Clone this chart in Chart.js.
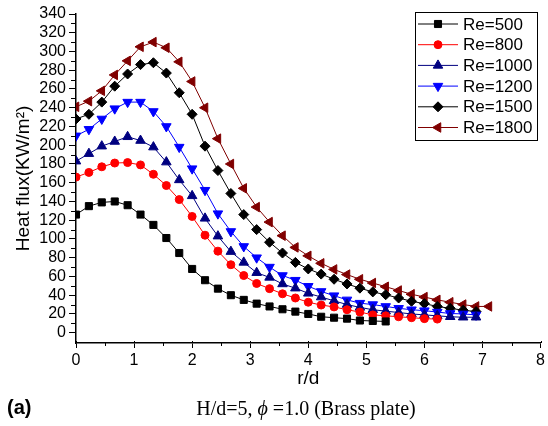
<!DOCTYPE html>
<html>
<head>
<meta charset="utf-8">
<script src="https://cdn.jsdelivr.net/npm/chart.js@4.4.0/dist/chart.umd.min.js"></script>
<style>
  html, body { margin: 0; padding: 0; background: #fff; }
  #wrap { width: 548px; height: 426px; }
</style>
</head>
<body>
<div id="wrap"><canvas id="chart" width="548" height="426"></canvas></div>
<script>
// r/d positions (step 2/9)
const rd = [0, 0.222, 0.444, 0.667, 0.889, 1.111, 1.333, 1.556, 1.778, 2.0, 2.222, 2.444,
  2.667, 2.889, 3.111, 3.333, 3.556, 3.778, 4.0, 4.222, 4.444, 4.667, 4.889, 5.111,
  5.333, 5.556, 5.778, 6.0, 6.222, 6.444, 6.667, 6.889, 7.111];

const labels = ["Re=500", "Re=800", "Re=1000", "Re=1200", "Re=1500", "Re=1800"];

const re500 = [126, 135, 139, 140, 136, 126, 115, 101, 85, 68, 56, 47, 40, 35, 31, 28,
  25, 22.5, 20, 17, 16, 15, 13, 12.5, 12];
const re800 = [166, 171, 177, 181, 181.5, 179, 169, 157, 142, 124, 104, 87, 72.5, 61, 52.5,
  47, 41.5, 37, 32.5, 29.5, 27.5, 24.5, 22, 19, 18, 17, 16, 15, 14.5];
const re1000 = [183, 191, 199, 204, 209, 205, 198, 182, 163, 146, 122, 103, 86.5, 75, 64,
  59, 52, 47.5, 42, 38, 34, 30, 27, 24.5, 23, 21.5, 20, 19, 18, 17, 16.5, 16.5];
const re1200 = [210, 217, 228, 239, 246, 246, 236, 220, 198, 175, 152, 127, 108, 92, 80,
  70, 61, 56, 49.5, 44, 39.5, 35, 31.5, 30, 28, 26, 24.5, 23.5, 22, 20.5, 20, 19];
const re1500 = [228, 233, 246, 263, 276, 286, 288, 277, 256, 233, 199, 173, 148.5, 126, 110,
  96.5, 85, 75, 68, 62.5, 57, 52, 47.5, 43.5, 40.5, 37, 33.5, 31, 28, 26, 24, 22.5];
const re1800 = [241, 247, 258, 275, 290, 305, 310, 304, 289, 268, 240, 207, 180, 154, 134,
  118, 103.5, 91, 82, 74, 67.5, 62, 57, 53, 49, 45, 41, 38, 35, 32.5, 30, 28, 28];

const xTicks = [0, 1, 2, 3, 4, 5, 6, 7, 8];
const yTicks = [0, 20, 40, 60, 80, 100, 120, 140, 160, 180, 200, 220, 240, 260, 280, 300, 320, 340];
const xMinor = [0.5, 1.5, 2.5, 3.5, 4.5, 5.5, 6.5, 7.5];
const yMinor = [10, 30, 50, 70, 90, 110, 130, 150, 170, 190, 210, 230, 250, 270, 290, 310, 330];

const colors = ["#000000", "#ff0000", "#000080", "#0000ff", "#000000", "#800000"];
const styles = ["rect", "circle", "triangle", "triangle", "rectRot", "triangle"];
const rotations = [0, 0, 0, 180, 0, 270];
const radii = [5, 4, 5.5, 5.5, 5, 5.5];

const allSeries = [re500, re800, re1000, re1200, re1500, re1800];

const FONT = "'Liberation Sans', Arial, sans-serif";
const SERIF = "'Liberation Serif', 'Times New Roman', serif";

const datasets = allSeries.map((vals, i) => ({
  label: labels[i],
  data: vals.map((v, j) => ({ x: rd[j], y: v })),
  borderColor: colors[i],
  backgroundColor: colors[i],
  pointBackgroundColor: colors[i],
  pointBorderColor: colors[i],
  pointBorderWidth: 1,
  borderWidth: 1,
  pointStyle: styles[i],
  pointRotation: rotations[i],
  pointRadius: radii[i],
  tension: 0,
  fill: false
}));

const extras = {
  id: "extras",
  afterDraw(chart) {
    const ctx = chart.ctx;
    const xs = chart.scales.x, ys = chart.scales.y;
    ctx.save();
    // minor ticks
    ctx.strokeStyle = "#000";
    ctx.lineWidth = 1;
    ctx.beginPath();
    xMinor.forEach(v => {
      const px = Math.round(xs.getPixelForValue(v)) + 0.5;
      ctx.moveTo(px, ys.bottom - 1);
      ctx.lineTo(px, ys.bottom + 3);
    });
    xTicks.forEach(v => {
      const px = Math.round(xs.getPixelForValue(v)) + 0.5;
      ctx.moveTo(px, ys.bottom - 2);
      ctx.lineTo(px, ys.bottom);
    });
    yMinor.forEach(v => {
      const py = Math.round(ys.getPixelForValue(v)) + 0.5;
      ctx.moveTo(xs.left, py);
      ctx.lineTo(xs.left - 5, py);
    });
    ctx.stroke();

    // legend box
    ctx.strokeStyle = "#000";
    ctx.lineWidth = 1;
    ctx.strokeRect(415.5, 12.5, 122, 128);
    chart.data.datasets.forEach((ds, i) => {
      const y = 24 + i * 20.7;
      ctx.strokeStyle = ds.borderColor;
      ctx.lineWidth = 1;
      ctx.beginPath();
      ctx.moveTo(418, y);
      ctx.lineTo(458, y);
      ctx.stroke();
      ctx.fillStyle = ds.pointBackgroundColor;
      ctx.strokeStyle = ds.pointBorderColor;
      Chart.helpers.drawPoint(ctx, {
        pointStyle: ds.pointStyle,
        rotation: ds.pointRotation,
        radius: ds.pointRadius,
        borderWidth: 1
      }, 438, y);
      ctx.fillStyle = "#000";
      ctx.font = "17px " + FONT;
      ctx.textBaseline = "middle";
      ctx.textAlign = "left";
      ctx.fillText(ds.label, 463, y + 1);
    });

    // panel label and caption
    ctx.fillStyle = "#000";
    ctx.textBaseline = "alphabetic";
    ctx.font = "bold 20px " + FONT;
    ctx.fillText("(a)", 7, 414);
    const p1 = "H/d=5, ";
    const p3 = " =1.0 (Brass plate)";
    ctx.font = "20px " + SERIF;
    const w1 = ctx.measureText(p1).width;
    const w3 = ctx.measureText(p3).width;
    ctx.font = "italic 20px " + SERIF;
    const w2 = ctx.measureText("\u03d5").width;
    const x0 = 306 - (w1 + w2 + w3) / 2;
    ctx.font = "20px " + SERIF;
    ctx.fillText(p1, x0, 415);
    ctx.font = "italic 20px " + SERIF;
    ctx.fillText("\u03d5", x0 + w1, 415);
    ctx.font = "20px " + SERIF;
    ctx.fillText(p3, x0 + w1 + w2, 415);
    ctx.restore();
  }
};

new Chart(document.getElementById("chart"), {
  type: "line",
  data: { datasets },
  plugins: [extras],
  options: {
    responsive: false,
    animation: false,
    devicePixelRatio: 1,
    layout: { padding: { top: 14, right: 6, left: 0, bottom: 0 } },
    plugins: { legend: { display: false }, tooltip: { enabled: false } },
    scales: {
      x: {
        type: "linear",
        min: 0,
        max: 8,
        afterFit: s => { s.height = 83; },
        afterBuildTicks: s => { s.ticks = xTicks.map(v => ({ value: v })); },
        ticks: { autoSkip: false, color: "#000", font: { family: FONT, size: 16 }, padding: 3 },
        grid: { drawOnChartArea: false, drawTicks: true, tickLength: 5, color: "#000" },
        border: { display: true, color: "#000", width: 1.5 },
        title: {
          display: true, text: "r/d", color: "#000",
          font: { family: FONT, size: 19 }, padding: { top: 0, bottom: 36 }
        }
      },
      y: {
        min: -11,
        max: 340,
        afterFit: s => { s.width = 76; },
        afterBuildTicks: s => { s.ticks = yTicks.map(v => ({ value: v })); },
        ticks: { autoSkip: false, color: "#000", font: { family: FONT, size: 16 }, padding: 3 },
        grid: { drawOnChartArea: false, drawTicks: true, tickLength: 7, color: "#000" },
        border: { display: true, color: "#000", width: 1.5 },
        title: {
          display: true, text: "Heat flux(KW/m\u00b2)", color: "#000",
          font: { family: FONT, size: 19 }, padding: { top: 12, bottom: 0 }
        }
      }
    }
  }
});
</script>
</body>
</html>
